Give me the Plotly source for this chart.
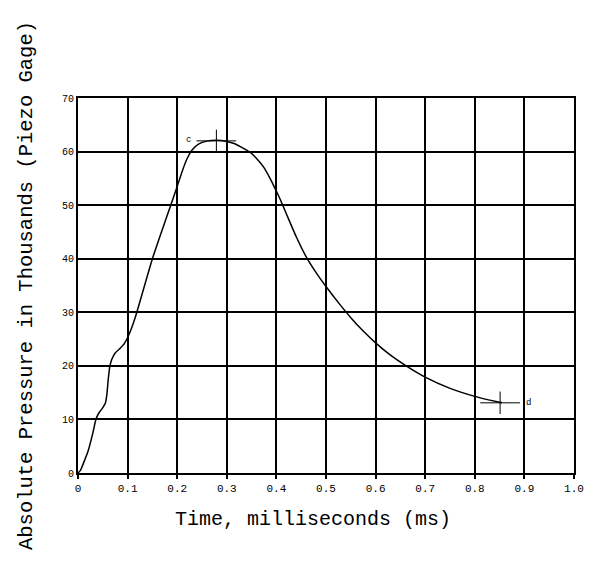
import plotly.graph_objects as go

# Pressure-time trace (piezo gage)
time_ms = [0.0, 0.005, 0.02, 0.03, 0.036, 0.042, 0.05, 0.055, 0.058, 0.061,
           0.064, 0.068, 0.075, 0.085, 0.093, 0.1, 0.107, 0.117, 0.15, 0.187,
           0.2, 0.21, 0.22, 0.23, 0.243, 0.26, 0.28, 0.3, 0.315, 0.33,
           0.348, 0.36, 0.375, 0.39, 0.4, 0.408, 0.42, 0.44, 0.461, 0.48,
           0.5, 0.525, 0.55, 0.575, 0.6, 0.63, 0.66, 0.7, 0.75, 0.8,
           0.83, 0.855]
pressure_k = [0.0, 0.5, 4.0, 7.5, 10.0, 11.2, 12.2, 13.0, 14.5, 17.5,
              19.8, 21.2, 22.4, 23.3, 24.1, 25.3, 26.8, 29.5, 40.0, 50.0,
              53.5, 56.3, 58.7, 60.3, 61.4, 61.95, 62.1, 61.9, 61.5, 60.8,
              59.8, 58.7, 57.0, 54.5, 52.6, 51.0, 48.4, 44.1, 40.2, 37.4,
              34.8, 31.8, 29.0, 26.5, 24.3, 22.0, 20.1, 17.9, 15.8, 14.3,
              13.6, 13.1]

# Marked points
point_labels = ["c", "d"]
point_t = [0.279, 0.851]
point_p = [62.0, 13.1]

x_ticks = [0, 0.1, 0.2, 0.3, 0.4, 0.5, 0.6, 0.7, 0.8, 0.9, 1.0]
x_tick_text = ["0", "0.1", "0.2", "0.3", "0.4", "0.5", "0.6", "0.7", "0.8", "0.9", "1.0"]
y_ticks = [0, 10, 20, 30, 40, 50, 60, 70]
y_tick_text = ["0", "10", "20", "30", "40", "50", "60", "70"]

FONT = "Liberation Mono, Courier New, monospace"
HALF_W = 0.04   # half-width of the marker crosses (ms)
HALF_H = 2.1    # half-height of the marker crosses (thousands)

fig = go.Figure()
fig.add_trace(go.Scatter(x=time_ms, y=pressure_k, mode="lines",
                         line=dict(color="black", width=1.5, shape="spline", smoothing=0.4),
                         showlegend=False, hoverinfo="skip"))

for lab, t, p in zip(point_labels, point_t, point_p):
    fig.add_trace(go.Scatter(x=[t - HALF_W, t + HALF_W], y=[p, p], mode="lines",
                             line=dict(color="black", width=1), showlegend=False))
    fig.add_trace(go.Scatter(x=[t, t], y=[p - HALF_H, p + HALF_H], mode="lines",
                             line=dict(color="black", width=1), showlegend=False))

fig.add_annotation(x=point_t[0] - 0.057, y=point_p[0] + 0.2, text=point_labels[0],
                   showarrow=False, font=dict(family=FONT, size=9, color="black"))
fig.add_annotation(x=point_t[1] + 0.058, y=point_p[1], text=point_labels[1],
                   showarrow=False, font=dict(family=FONT, size=9, color="black"))

fig.add_annotation(x=0.473, y=-0.125, xref="x", yref="paper", yanchor="middle",
                   text="Time, milliseconds (ms)", showarrow=False,
                   font=dict(family=FONT, size=20, color="black"))

fig.update_xaxes(range=[0, 1.0], tickvals=x_ticks, ticktext=x_tick_text,
                 showgrid=True, gridcolor="black", gridwidth=2,
                 showline=True, linecolor="black", linewidth=2, mirror=True,
                 ticks="outside", ticklen=4, tickcolor="black", tickwidth=2,
                 zeroline=False,
                 tickfont=dict(family=FONT, size=11, color="black"))
fig.update_yaxes(range=[0, 70], tickvals=y_ticks, ticktext=y_tick_text,
                 showgrid=True, gridcolor="black", gridwidth=2,
                 showline=True, linecolor="black", linewidth=2, mirror=True,
                 ticks="", zeroline=False,
                 tickfont=dict(family=FONT, size=10, color="black"),
                 title=dict(text="Absolute Pressure in Thousands (Piezo Gage)",
                            font=dict(family=FONT, size=20.5, color="black"),
                            standoff=24))

fig.update_layout(width=596, height=563,
                  margin=dict(l=78, r=13, t=98, b=90),
                  plot_bgcolor="white", paper_bgcolor="white",
                  showlegend=False)

fig.write_html("out.html")
